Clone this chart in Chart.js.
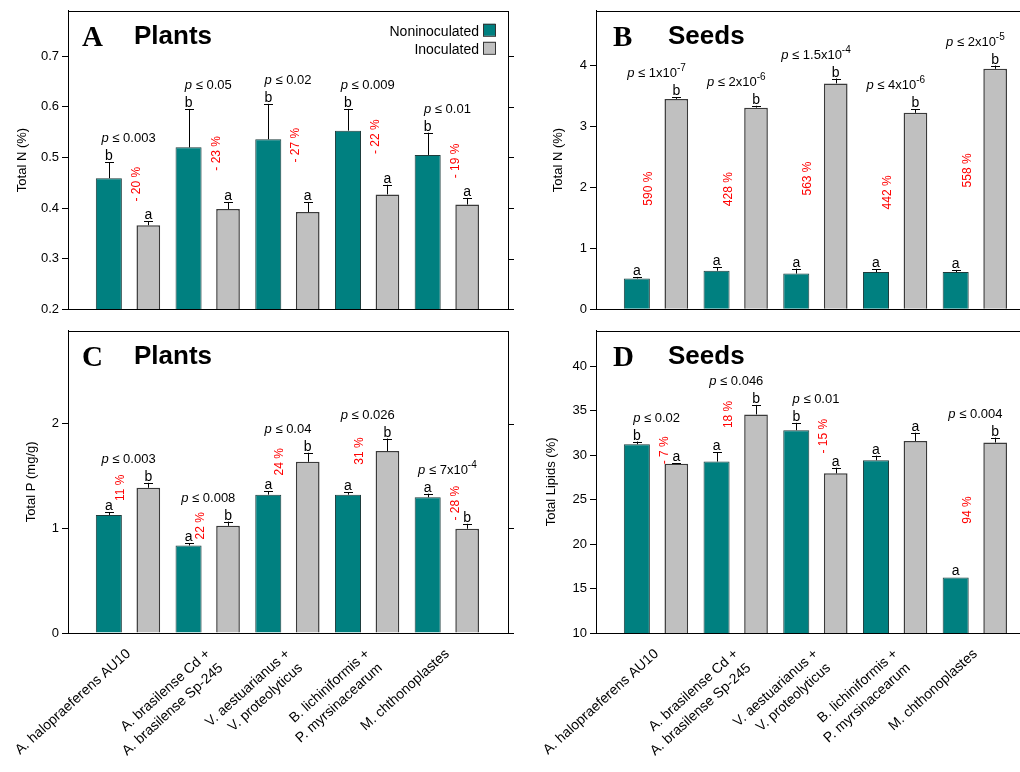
<!DOCTYPE html>
<html>
<head>
<meta charset="utf-8">
<script src="https://cdn.jsdelivr.net/npm/chart.js@4.4.0/dist/chart.umd.min.js"></script>
<style>
  html, body { margin: 0; padding: 0; background: #fff; overflow: hidden; }
  body { width: 1020px; height: 772px; position: relative; }
  canvas { position: absolute; }
</style>
</head>
<body>
<canvas id="chartA" width="520" height="320" style="left:0;top:0"></canvas>
<canvas id="chartB" width="520" height="320" style="left:520px;top:0"></canvas>
<canvas id="chartC" width="520" height="452" style="left:0;top:320px"></canvas>
<canvas id="chartD" width="520" height="452" style="left:520px;top:320px"></canvas>
<script>
// treatments (x categories)
const groupLabels = [
  'A. halopraeferens AU10',
  ['A. brasilense Cd +', 'A. brasilense Sp-245'],
  ['V. aestuarianus +', 'V. proteolyticus'],
  ['B. lichiniformis +', 'P. myrsinacearum'],
  'M. chthonoplastes'
];
const seriesNames = ['Noninoculated', 'Inoculated'];

// A - total N, plants (%)
const plantN_non = [0.459, 0.520, 0.536, 0.553, 0.505];
const plantN_nonErr = [0.032, 0.076, 0.070, 0.043, 0.044];
const plantN_ino = [0.366, 0.398, 0.392, 0.427, 0.407];
const plantN_inoErr = [0.008, 0.014, 0.020, 0.019, 0.013];
const plantN_nonLetters = ['b', 'b', 'b', 'b', 'b'];
const plantN_inoLetters = ['a', 'a', 'a', 'a', 'a'];
const plantN_p = ['0.003', '0.05', '0.02', '0.009', '0.01'];
const plantN_change = ['- 20 %', '- 23 %', '- 27 %', '- 22 %', '- 19 %'];

// B - total N, seeds (%)
const seedN_non = [0.505, 0.632, 0.585, 0.610, 0.610];
const seedN_nonErr = [0.025, 0.060, 0.080, 0.045, 0.035];
const seedN_ino = [3.453, 3.310, 3.708, 3.224, 3.947];
const seedN_inoErr = [0.027, 0.030, 0.080, 0.060, 0.053];
const seedN_nonLetters = ['a', 'a', 'a', 'a', 'a'];
const seedN_inoLetters = ['b', 'b', 'b', 'b', 'b'];
const seedN_p = ['1x10^-7', '2x10^-6', '1.5x10^-4', '4x10^-6', '2x10^-5'];
const seedN_change = ['590 %', '428 %', '563 %', '442 %', '558 %'];

// C - total P, plants (mg/g)
const plantP_non = [1.129, 0.837, 1.323, 1.323, 1.298];
const plantP_nonErr = [0.025, 0.020, 0.035, 0.025, 0.034];
const plantP_ino = [1.389, 1.025, 1.637, 1.740, 0.997];
const plantP_inoErr = [0.047, 0.040, 0.087, 0.120, 0.047];
const plantP_nonLetters = ['a', 'a', 'a', 'a', 'a'];
const plantP_inoLetters = ['b', 'b', 'b', 'b', 'b'];
const plantP_p = ['0.003', '0.008', '0.04', '0.026', '7x10^-4'];
const plantP_change = ['11 %', '22 %', '24 %', '31 %', '- 28 %'];

// D - total lipids, seeds (%)
const lipid_non = [31.24, 29.29, 32.82, 29.44, 16.25];
const lipid_nonErr = [0.30, 1.03, 0.82, 0.51, 0];
const lipid_ino = [29.03, 34.59, 27.96, 31.61, 31.43];
const lipid_inoErr = [0.08, 1.07, 0.63, 0.92, 0.55];
const lipid_nonLetters = ['b', 'a', 'b', 'a', 'a'];
const lipid_inoLetters = ['a', 'b', 'a', 'a', 'b'];
const lipid_p = ['0.02', '0.046', '0.01', null, '0.004'];
const lipid_change = ['- 7 %', '18 %', '- 15 %', null, '94 %'];

const TEAL = '#008080';
const GREY = '#c0c0c0';
const SANS = '"Liberation Sans", Arial, sans-serif';
const SERIF = '"Liberation Serif", "Times New Roman", serif';

Chart.defaults.font.family = SANS;
Chart.defaults.color = '#000';

function decoPlugin(p) {
  return {
    id: 'deco',
    afterDatasetsDraw(chart) {
      const ctx = chart.ctx;
      const area = chart.chartArea;
      const xs = chart.scales.x, ys = chart.scales.y;
      ctx.save();

      // frame round the plot
      ctx.strokeStyle = '#000';
      ctx.lineWidth = 1;
      ctx.strokeRect(Math.round(area.left) + 0.5, Math.round(area.top) + 0.5,
        Math.round(area.right - area.left), Math.round(area.bottom - area.top));
      if (p.rightTicks) {
        ys.ticks.forEach(t => {
          const y = Math.round(ys.getPixelForValue(t.value)) + 0.5;
          ctx.beginPath();
          ctx.moveTo(area.right, y);
          ctx.lineTo(area.right + 6, y);
          ctx.stroke();
        });
      }

      // error bars and letters
      const tops = [[], []];
      chart.data.datasets.forEach((ds, di) => {
        const meta = chart.getDatasetMeta(di);
        meta.data.forEach((bar, i) => {
          const v = ds.data[i].y;
          const e = p.errs[di][i];
          const yTop = ys.getPixelForValue(v + e);
          tops[di][i] = yTop;
          const x = Math.round(bar.x) + 0.5;
          if (e > 0) {
            ctx.beginPath();
            ctx.moveTo(x, bar.y);
            ctx.lineTo(x, yTop);
            ctx.moveTo(x - 4.5, Math.round(yTop) + 0.5);
            ctx.lineTo(x + 4.5, Math.round(yTop) + 0.5);
            ctx.stroke();
          }
          ctx.fillStyle = '#000';
          ctx.font = '14px ' + SANS;
          ctx.textAlign = 'center';
          ctx.textBaseline = 'alphabetic';
          ctx.fillText(p.letters[di][i], bar.x, yTop - 2);
        });
      });

      // p values and percentage changes
      const non = chart.data.datasets[0].data, ino = chart.data.datasets[1].data;
      for (let i = 0; i < non.length; i++) {
        const cx = xs.getPixelForValue(i);
        if (p.pvals[i]) {
          const parts = p.pvals[i].split('^');
          const yb = Math.min(tops[0][i], tops[1][i]) - 20;
          ctx.textBaseline = 'alphabetic';
          ctx.textAlign = 'left';
          const fItal = 'italic 13px ' + SANS, fNorm = '13px ' + SANS, fSup = '10px ' + SANS;
          ctx.font = fItal; const w1 = ctx.measureText('p').width;
          ctx.font = fNorm; const w2 = ctx.measureText(' \u2264 ').width;
          const w3 = ctx.measureText(parts[0]).width;
          ctx.font = fSup; const w4 = parts[1] ? ctx.measureText(parts[1]).width : 0;
          let x = cx - (w1 + w2 + w3 + w4) / 2;
          ctx.fillStyle = '#000';
          ctx.font = fItal; ctx.fillText('p', x, yb); x += w1;
          ctx.font = fNorm; ctx.fillText(' \u2264 ', x, yb); x += w2;
          ctx.fillText(parts[0], x, yb); x += w3;
          if (parts[1]) { ctx.font = fSup; ctx.fillText(parts[1], x, yb - 6); }
        }
        if (p.changes[i]) {
          const a = non[i].y, b = ino[i].y;
          const hi = Math.max(a, b), lo = Math.min(a, b);
          const level = hi / lo > 1.5 ? (a + b) / 2 : hi;
          const x = cx + (a > b ? 8 : -8);
          const y = ys.getPixelForValue(level) + (a > b && hi / lo <= 1.5 ? 6 : 0);
          ctx.save();
          ctx.translate(x, y);
          ctx.rotate(-Math.PI / 2);
          ctx.fillStyle = '#ff0000';
          ctx.font = '12px ' + SANS;
          ctx.textAlign = 'center';
          ctx.textBaseline = 'middle';
          ctx.fillText(p.changes[i], 0, 0);
          ctx.restore();
        }
      }

      // panel letter and title
      ctx.fillStyle = '#000';
      ctx.textAlign = 'left';
      ctx.textBaseline = 'alphabetic';
      ctx.font = 'bold 29px ' + SERIF;
      ctx.fillText(p.letter, area.left + p.letterDx, area.top + 35);
      ctx.font = 'bold 26px ' + SANS;
      ctx.fillText(p.title, area.left + p.titleDx, area.top + 33);

      // legend (panel A only)
      if (p.legend) {
        ctx.font = '14px ' + SANS;
        ctx.textAlign = 'right';
        chart.data.datasets.forEach((ds, di) => {
          const bx = area.right - 25, by = area.top + 13 + di * 18;
          ctx.fillStyle = ds.backgroundColor;
          ctx.fillRect(bx, by, 12, 12);
          ctx.strokeStyle = '#333';
          ctx.strokeRect(bx + 0.5, by + 0.5, 12, 12);
          ctx.fillStyle = '#000';
          ctx.fillText(ds.label, bx - 4, by + 12);
        });
      }
      ctx.restore();
    }
  };
}

function makePanel(id, cfg) {
  const toXY = arr => arr.map((v, i) => ({ x: i, y: v }));
  return new Chart(document.getElementById(id), {
    type: 'bar',
    data: {
      datasets: [
        { label: seriesNames[0], data: toXY(cfg.non), backgroundColor: TEAL,
          borderColor: '#1e3c3c', borderWidth: 1, barPercentage: 0.66, categoryPercentage: 0.99 },
        { label: seriesNames[1], data: toXY(cfg.ino), backgroundColor: GREY,
          borderColor: '#3a3a3a', borderWidth: 1.5, barPercentage: 0.6, categoryPercentage: 0.99 }
      ]
    },
    options: {
      responsive: false,
      animation: false,
      layout: { padding: { left: 0, right: cfg.padRight, top: cfg.padTop, bottom: 0 } },
      plugins: { legend: { display: false }, tooltip: { enabled: false } },
      scales: {
        x: {
          type: 'linear',
          min: -0.76,
          max: 4.76,
          offset: false,
          grid: { display: false, drawTicks: false },
          border: { display: true, color: '#000', width: 1 },
          afterBuildTicks: s => { s.ticks = groupLabels.map((_, i) => ({ value: i })); },
          afterFit: s => {
            s.height = cfg.xHeight;
            s.paddingLeft = 0;
            s.paddingRight = 0;
          },
          ticks: {
            display: cfg.showLabels,
            autoSkip: false,
            minRotation: 42,
            maxRotation: 42,
            padding: 12,
            font: { size: 14, lineHeight: 1.35 },
            callback: v => groupLabels[v]
          }
        },
        y: {
          min: cfg.yMin,
          max: cfg.yMax,
          grid: { drawOnChartArea: false, drawTicks: true, tickLength: 6, color: '#000' },
          border: { display: true, color: '#000', width: 1 },
          afterFit: s => { s.width = cfg.yWidth; },
          ticks: {
            stepSize: cfg.yStep,
            includeBounds: false,
            padding: 3,
            font: { size: 13 },
            callback: v => cfg.fmt(v)
          },
          title: {
            display: true,
            text: cfg.yTitle,
            font: { size: 13 },
            padding: { top: cfg.titlePad, bottom: 0 }
          }
        }
      }
    },
    plugins: [decoPlugin({
      errs: [cfg.nonErr, cfg.inoErr],
      letters: [cfg.nonLetters, cfg.inoLetters],
      pvals: cfg.p,
      changes: cfg.change,
      letter: cfg.letter,
      title: cfg.title,
      letterDx: cfg.letterDx,
      titleDx: cfg.titleDx,
      rightTicks: cfg.rightTicks,
      legend: cfg.legend
    })]
  });
}

makePanel('chartA', {
  non: plantN_non, nonErr: plantN_nonErr, ino: plantN_ino, inoErr: plantN_inoErr,
  nonLetters: plantN_nonLetters, inoLetters: plantN_inoLetters, p: plantN_p, change: plantN_change,
  yMin: 0.2, yMax: 0.79, yStep: 0.1, fmt: v => v.toFixed(1), yTitle: 'Total N (%)', titlePad: 15,
  yWidth: 68, padRight: 12, padTop: 7, xHeight: 5, showLabels: false,
  letter: 'A', title: 'Plants', letterDx: 14, titleDx: 66, rightTicks: true, legend: true
});

makePanel('chartB', {
  non: seedN_non, nonErr: seedN_nonErr, ino: seedN_ino, inoErr: seedN_inoErr,
  nonLetters: seedN_nonLetters, inoLetters: seedN_inoLetters, p: seedN_p, change: seedN_change,
  yMin: 0, yMax: 4.9, yStep: 1, fmt: v => String(v), yTitle: 'Total N (%)', titlePad: 31,
  yWidth: 76, padRight: 4, padTop: 7, xHeight: 5, showLabels: false,
  letter: 'B', title: 'Seeds', letterDx: 17, titleDx: 72, rightTicks: false, legend: false
});

makePanel('chartC', {
  non: plantP_non, nonErr: plantP_nonErr, ino: plantP_ino, inoErr: plantP_inoErr,
  nonLetters: plantP_nonLetters, inoLetters: plantP_inoLetters, p: plantP_p, change: plantP_change,
  yMin: 0, yMax: 2.89, yStep: 1, fmt: v => String(v), yTitle: 'Total P (mg/g)', titlePad: 24,
  yWidth: 68, padRight: 12, padTop: 6, xHeight: 139, showLabels: true,
  letter: 'C', title: 'Plants', letterDx: 14, titleDx: 66, rightTicks: true, legend: false
});

makePanel('chartD', {
  non: lipid_non, nonErr: lipid_nonErr, ino: lipid_ino, inoErr: lipid_inoErr,
  nonLetters: lipid_nonLetters, inoLetters: lipid_inoLetters, p: lipid_p, change: lipid_change,
  yMin: 10, yMax: 44, yStep: 5, fmt: v => String(v), yTitle: 'Total Lipids (%)', titlePad: 24,
  yWidth: 76, padRight: 4, padTop: 6, xHeight: 139, showLabels: true,
  letter: 'D', title: 'Seeds', letterDx: 17, titleDx: 72, rightTicks: false, legend: false
});
</script>
</body>
</html>
